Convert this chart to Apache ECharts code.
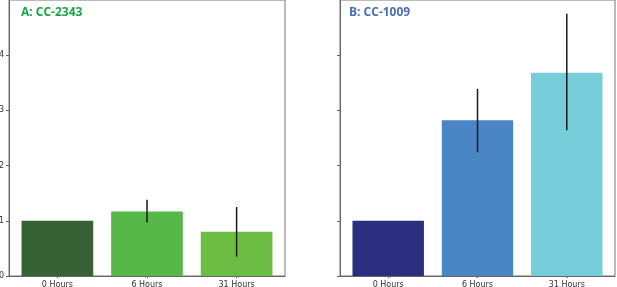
<!DOCTYPE html>
<html>
<head>
<meta charset="utf-8">
<script src="https://cdn.jsdelivr.net/npm/echarts@6/dist/echarts.min.js"></script>
<style>
  html, body { margin: 0; padding: 0; background: #fff; }
  #chart { width: 617px; height: 287px; }
</style>
</head>
<body>
<div id="chart"></div>
<script>
const categories = ['0 Hours', '6 Hours', '31 Hours'];
const catPos = [0, 1, 2];

const valuesA = [1.0, 1.17, 0.80];
const errLowA = [1.0, 0.97, 0.35];
const errHighA = [1.0, 1.38, 1.25];
const colorsA = ['#366134', '#55b848', '#6dbd44'];

const valuesB = [1.0, 2.82, 3.68];
const errLowB = [1.0, 2.24, 2.64];
const errHighB = [1.0, 3.39, 4.75];
const colorsB = ['#2b2d7e', '#4a86c6', '#76cdd9'];

const yTicks = [0, 1, 2, 3, 4];
const barWidth = 0.8; // in category units, like matplotlib

const chart = echarts.init(document.getElementById('chart'));

function barSeries(idx, values, colors) {
  return {
    type: 'custom',
    xAxisIndex: idx,
    yAxisIndex: idx,
    z: 2,
    data: catPos.map(i => [i, values[i]]),
    renderItem: (params, api) => {
      const i = params.dataIndex;
      const top = api.coord([api.value(0) - barWidth / 2, api.value(1)]);
      const base = api.coord([api.value(0) + barWidth / 2, 0]);
      return {
        type: 'rect',
        shape: { x: top[0], y: top[1], width: base[0] - top[0], height: base[1] - top[1] },
        style: { fill: colors[i] }
      };
    }
  };
}

function errSeries(idx, lows, highs) {
  return {
    type: 'custom',
    xAxisIndex: idx,
    yAxisIndex: idx,
    z: 5,
    data: catPos.map(i => [i, lows[i], highs[i]]),
    renderItem: (params, api) => {
      const lo = api.coord([api.value(0), api.value(1)]);
      const hi = api.coord([api.value(0), api.value(2)]);
      if (Math.abs(lo[1] - hi[1]) < 0.5) return null;
      return {
        type: 'line',
        shape: { x1: lo[0], y1: lo[1], x2: hi[0], y2: hi[1] },
        style: { stroke: '#1a1a1a', lineWidth: 1.5 }
      };
    }
  };
}

function xAxisFor(idx) {
  return {
    gridIndex: idx,
    type: 'value',
    min: -0.54,
    max: 2.54,
    splitLine: { show: false },
    axisLine: { onZero: false, lineStyle: { color: '#666', width: 1 } },
    axisTick: { show: true, length: 2, customValues: catPos, lineStyle: { color: '#666' } },
    axisLabel: {
      color: '#333', fontSize: 8, fontFamily: 'DejaVu Sans', margin: 5,
      customValues: catPos,
      formatter: v => categories[Math.round(v)]
    }
  };
}

function yAxisFor(idx, labels) {
  return {
    gridIndex: idx,
    type: 'value',
    min: 0,
    max: 5,
    splitLine: { show: false },
    axisLine: { show: true, onZero: false, lineStyle: { color: '#666', width: 1 } },
    axisTick: { show: true, length: 3, customValues: yTicks, lineStyle: { color: '#666' } },
    axisLabel: labels
      ? { color: '#333', fontSize: 8, fontFamily: 'DejaVu Sans', margin: 5, customValues: yTicks }
      : { show: false }
  };
}

const titleFont = { fontSize: 12, fontWeight: 'bold', fontFamily: 'Open Sans' };

chart.setOption({
  animation: false,
  title: [
    { text: 'A: CC-2343', left: 16, top: 2,
      textStyle: Object.assign({ color: '#17a547' }, titleFont) },
    { text: 'B: CC-1009', left: 344, top: 2,
      textStyle: Object.assign({ color: '#4a6fb6' }, titleFont) }
  ],
  grid: [
    { left: 9, top: 0, width: 276, height: 276, outerBoundsMode: 'none',
      show: true, borderColor: '#777', borderWidth: 1 },
    { left: 340, top: 0, width: 275, height: 276, outerBoundsMode: 'none',
      show: true, borderColor: '#777', borderWidth: 1 }
  ],
  xAxis: [xAxisFor(0), xAxisFor(1)],
  yAxis: [yAxisFor(0, true), yAxisFor(1, false)],
  series: [
    barSeries(0, valuesA, colorsA),
    barSeries(1, valuesB, colorsB),
    errSeries(0, errLowA, errHighA),
    errSeries(1, errLowB, errHighB)
  ]
});
</script>
</body>
</html>
